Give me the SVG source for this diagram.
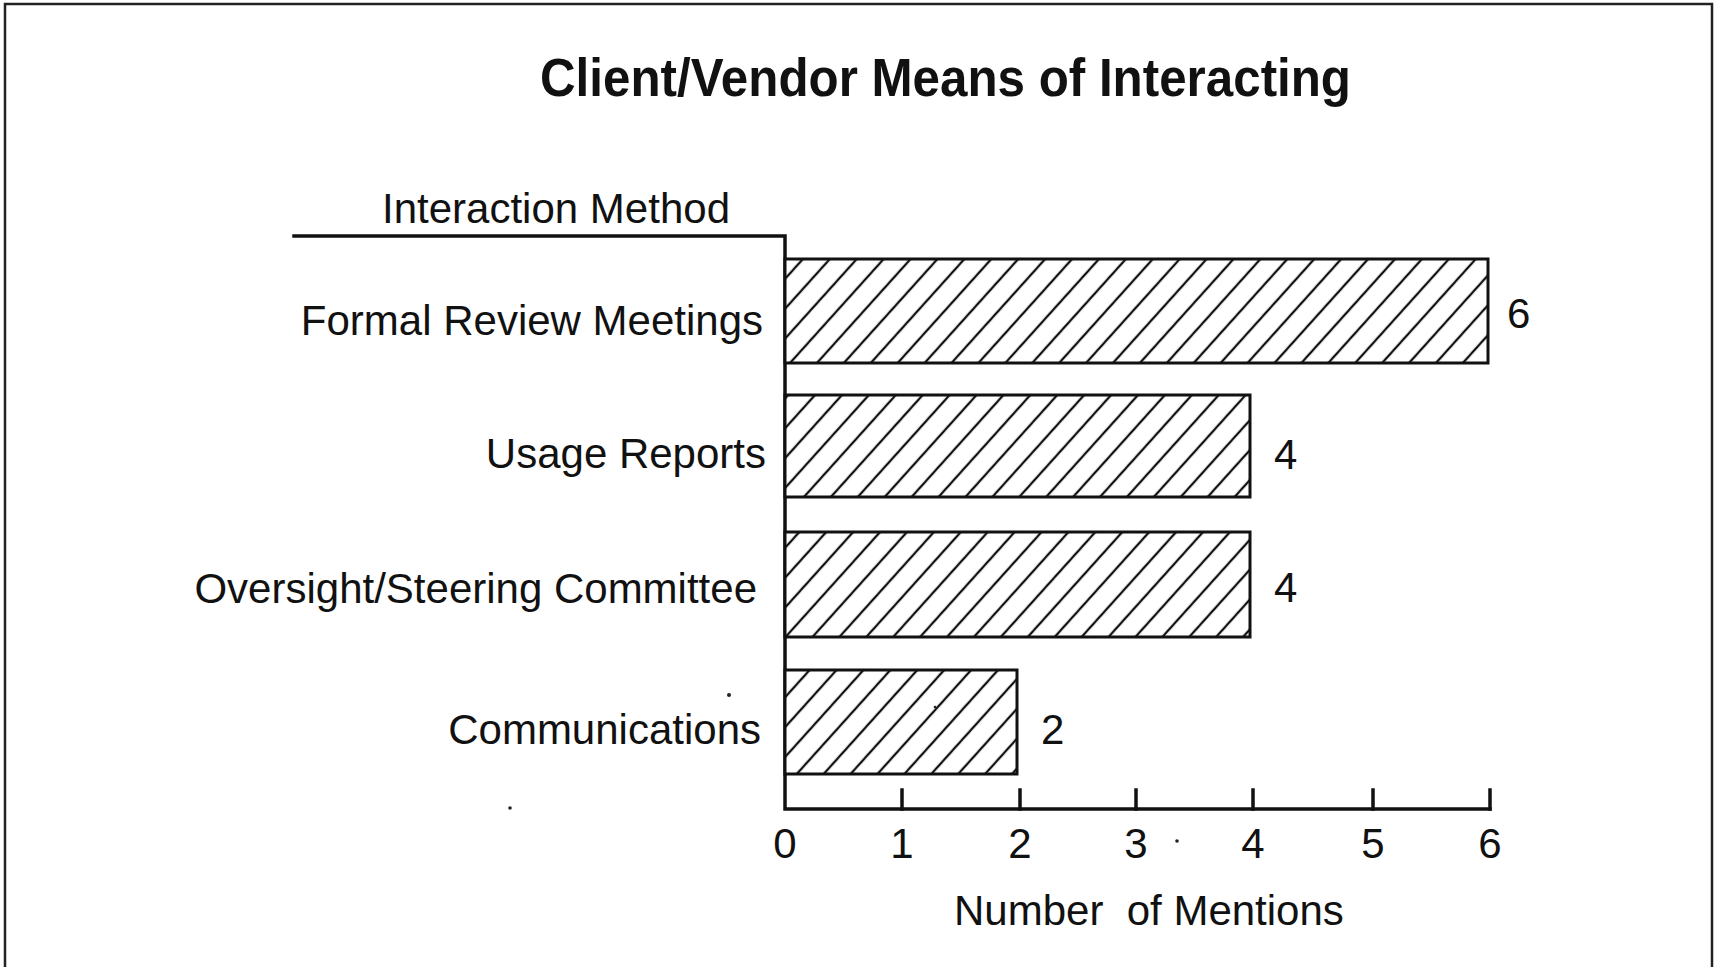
<svg xmlns="http://www.w3.org/2000/svg" width="1720" height="967" viewBox="0 0 1720 967">
  <style>
    .txt { font-family: "Liberation Sans", Arial, sans-serif; fill: #111; }
    .title { font-size: 54px; font-weight: bold; }
    .lbl { font-size: 42px; }
    .cat { font-size: 42px; text-anchor: end; }
    .tick { font-size: 42px; text-anchor: middle; }
    .bar { stroke: #111; stroke-width: 3; fill: url(#hatch); }
    .axis { stroke: #111; stroke-width: 3.5; fill: none; stroke-linecap: square; }
    .frame { stroke: #222; stroke-width: 2.5; fill: none; }
    .dot { fill: #222; }
  </style>
  <defs>
    <pattern id="hatch" patternUnits="userSpaceOnUse" width="20" height="20" patternTransform="rotate(42)">
      <rect x="0" y="0" width="20" height="20" fill="#fff"/>
      <line x1="10" y1="-2" x2="10" y2="22" stroke="#111" stroke-width="2.3"/>
    </pattern>
  </defs>
  <rect width="1720" height="967" fill="#fff"/>

  <g id="frame">
    <path class="frame" d="M5,967 L5,4 L1712,4 L1712,967"/>
  </g>

  <g id="title">
    <text class="txt title" x="540" y="96" textLength="811" lengthAdjust="spacingAndGlyphs">Client/Vendor Means of Interacting</text>
  </g>

  <g id="axis-title">
    <text class="txt lbl" x="382" y="223" textLength="348" lengthAdjust="spacingAndGlyphs">Interaction Method</text>
  </g>

  <g id="connectors">
    <path class="axis" d="M294,236 L785,236 L785,809 L1490,809"/>
    <path class="axis" d="M902,809 V790 M1020,809 V790 M1136,809 V790 M1253,809 V790 M1373,809 V790 M1490,809 V790"/>
  </g>

  <g id="bar-formal-review">
    <rect class="bar" x="785" y="259" width="703" height="104"/>
    <text class="txt cat" x="763" y="335">Formal Review Meetings</text>
    <text class="txt lbl" x="1507" y="328">6</text>
  </g>

  <g id="bar-usage-reports">
    <rect class="bar" x="785" y="395" width="465" height="102"/>
    <text class="txt cat" x="766" y="468">Usage Reports</text>
    <text class="txt lbl" x="1274" y="469">4</text>
  </g>

  <g id="bar-oversight">
    <rect class="bar" x="785" y="532" width="465" height="105"/>
    <text class="txt cat" x="757" y="603">Oversight/Steering Committee</text>
    <text class="txt lbl" x="1274" y="602">4</text>
  </g>

  <g id="bar-communications">
    <rect class="bar" x="785" y="670" width="232" height="104"/>
    <text class="txt cat" x="761" y="744">Communications</text>
    <text class="txt lbl" x="1041" y="744">2</text>
  </g>

  <g id="x-axis-labels">
    <text class="txt tick" x="785" y="858">0</text>
    <text class="txt tick" x="902" y="858">1</text>
    <text class="txt tick" x="1020" y="858">2</text>
    <text class="txt tick" x="1136" y="858">3</text>
    <text class="txt tick" x="1253" y="858">4</text>
    <text class="txt tick" x="1373" y="858">5</text>
    <text class="txt tick" x="1490" y="858">6</text>
    <text class="txt lbl" x="954" y="925" xml:space="preserve" style="white-space:pre">Number  of Mentions</text>
  </g>

  <g id="specks">
    <circle class="dot" cx="729" cy="695" r="2"/>
    <circle class="dot" cx="510" cy="808" r="1.8"/>
    <circle class="dot" cx="935" cy="707" r="1.3"/>
    <circle class="dot" cx="1177" cy="841" r="1.8"/>
  </g>
</svg>
